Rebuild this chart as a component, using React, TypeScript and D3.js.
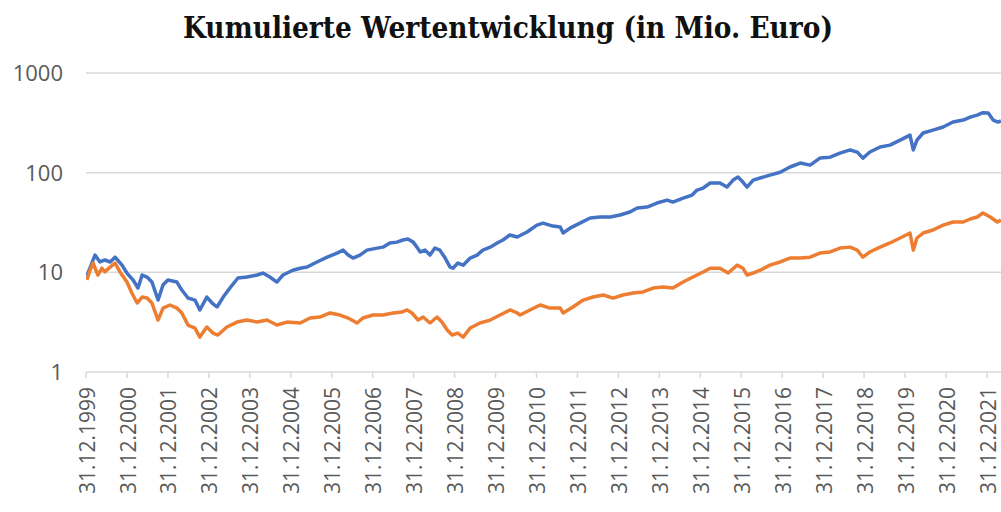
import { useEffect, useRef } from 'react';
import * as d3 from 'd3';

// Decimal year (2000.0 = 31.12.1999), value in Mio. Euro
const blueSeries: [number, number][] = [
    [2000.02, 9.2], [2000.22, 14.9], [2000.34, 12.7], [2000.46, 13.3], [2000.59, 12.7],
    [2000.71, 14.2], [2000.88, 11.8], [2001.00, 9.84], [2001.15, 8.37], [2001.27, 6.96],
    [2001.37, 9.4], [2001.49, 8.97], [2001.61, 7.99], [2001.76, 5.27], [2001.88, 7.46],
    [2002.00, 8.37], [2002.22, 7.99], [2002.34, 6.64], [2002.49, 5.52], [2002.66, 5.27],
    [2002.78, 4.19], [2002.95, 5.65], [2003.08, 4.92], [2003.20, 4.49], [2003.35, 5.65],
    [2003.57, 7.46], [2003.71, 8.77], [2003.93, 8.97], [2004.18, 9.4], [2004.32, 9.84],
    [2004.49, 8.97], [2004.66, 7.99], [2004.81, 9.4], [2005.05, 10.5], [2005.23, 11.0],
    [2005.40, 11.3], [2005.64, 12.7], [2005.89, 14.2], [2006.13, 15.6], [2006.28, 16.7],
    [2006.40, 14.9], [2006.52, 13.9], [2006.69, 14.9], [2006.86, 16.7], [2007.11, 17.5],
    [2007.25, 17.9], [2007.42, 19.7], [2007.59, 20.1], [2007.74, 21.1], [2007.86, 21.6],
    [2007.99, 20.1], [2008.08, 17.9], [2008.16, 16.0], [2008.28, 16.7], [2008.40, 14.9],
    [2008.52, 17.5], [2008.64, 16.7], [2008.77, 13.9], [2008.89, 11.3], [2008.96, 11.0],
    [2009.08, 12.4], [2009.21, 11.8], [2009.38, 13.9], [2009.55, 14.9], [2009.69, 16.7],
    [2009.87, 17.9], [2010.04, 19.7], [2010.18, 21.1], [2010.35, 23.7], [2010.53, 22.6],
    [2010.77, 25.4], [2011.01, 29.8], [2011.16, 31.2], [2011.40, 29.1], [2011.58, 28.5],
    [2011.65, 24.8], [2011.82, 27.8], [2012.06, 31.2], [2012.31, 35.1], [2012.55, 35.9],
    [2012.80, 35.9], [2013.04, 37.6], [2013.28, 40.3], [2013.46, 44.2], [2013.70, 45.2],
    [2013.94, 49.6], [2014.19, 53.1], [2014.33, 50.7], [2014.58, 55.6], [2014.80, 59.6],
    [2014.92, 66.9], [2015.07, 70.1], [2015.24, 78.7], [2015.48, 78.7], [2015.65, 71.7],
    [2015.80, 84.3], [2015.92, 90.3], [2016.04, 80.5], [2016.14, 71.7], [2016.29, 84.3],
    [2016.46, 88.3], [2016.70, 94.6], [2016.95, 101], [2017.19, 114], [2017.44, 125],
    [2017.68, 119], [2017.92, 140], [2018.17, 143], [2018.41, 157], [2018.66, 169],
    [2018.83, 161], [2018.97, 140], [2019.14, 161], [2019.39, 181], [2019.63, 189],
    [2019.88, 212], [2020.12, 238], [2020.20, 169], [2020.29, 212], [2020.44, 250],
    [2020.68, 267], [2020.93, 287], [2021.17, 322], [2021.42, 337], [2021.59, 361],
    [2021.76, 378], [2021.90, 400], [2022.03, 396], [2022.15, 337], [2022.27, 322],
    [2022.34, 330],
];

const orangeSeries: [number, number][] = [
    [2000.02, 8.4], [2000.10, 10.5], [2000.17, 12.4], [2000.29, 9.4], [2000.39, 11.0],
    [2000.46, 10.1], [2000.59, 11.3], [2000.71, 12.4], [2000.83, 10.1], [2001.00, 7.99],
    [2001.12, 6.2], [2001.25, 4.92], [2001.37, 5.65], [2001.49, 5.52], [2001.61, 4.92],
    [2001.76, 3.32], [2001.88, 4.38], [2002.05, 4.7], [2002.22, 4.38], [2002.34, 3.91],
    [2002.49, 2.96], [2002.66, 2.76], [2002.78, 2.24], [2002.95, 2.83], [2003.10, 2.46],
    [2003.22, 2.35], [2003.44, 2.83], [2003.69, 3.17], [2003.93, 3.32], [2004.18, 3.17],
    [2004.42, 3.32], [2004.66, 2.96], [2004.91, 3.17], [2005.23, 3.1], [2005.47, 3.48],
    [2005.71, 3.56], [2005.96, 3.91], [2006.20, 3.73], [2006.40, 3.48], [2006.62, 3.1],
    [2006.76, 3.48], [2007.01, 3.73], [2007.25, 3.73], [2007.50, 3.91], [2007.72, 4.0],
    [2007.84, 4.19], [2007.96, 3.91], [2008.11, 3.32], [2008.23, 3.56], [2008.40, 3.1],
    [2008.57, 3.56], [2008.69, 3.17], [2008.82, 2.64], [2008.94, 2.35], [2009.08, 2.46],
    [2009.21, 2.24], [2009.38, 2.76], [2009.62, 3.1], [2009.87, 3.32], [2010.11, 3.73],
    [2010.35, 4.19], [2010.53, 3.91], [2010.60, 3.73], [2010.84, 4.19], [2011.09, 4.7],
    [2011.33, 4.38], [2011.58, 4.38], [2011.65, 3.91], [2011.89, 4.49], [2012.14, 5.27],
    [2012.38, 5.65], [2012.63, 5.92], [2012.87, 5.52], [2013.11, 5.92], [2013.36, 6.2],
    [2013.60, 6.35], [2013.85, 6.96], [2014.09, 7.12], [2014.33, 6.96], [2014.58, 7.99],
    [2014.82, 8.97], [2015.07, 10.07], [2015.24, 11.0], [2015.48, 11.0], [2015.68, 9.84],
    [2015.90, 11.8], [2016.04, 11.0], [2016.14, 9.4], [2016.29, 9.84], [2016.46, 10.5],
    [2016.70, 11.8], [2016.95, 12.7], [2017.19, 13.9], [2017.44, 13.9], [2017.68, 14.2],
    [2017.92, 15.6], [2018.17, 16.0], [2018.41, 17.5], [2018.66, 17.9], [2018.83, 16.7],
    [2018.97, 14.2], [2019.14, 16.0], [2019.39, 17.9], [2019.63, 19.7], [2019.88, 22.1],
    [2020.12, 24.8], [2020.20, 16.7], [2020.29, 22.1], [2020.44, 24.8], [2020.68, 26.6],
    [2020.93, 29.8], [2021.17, 32.0], [2021.42, 32.0], [2021.59, 34.3], [2021.76, 35.9],
    [2021.90, 39.4], [2022.08, 35.9], [2022.25, 32.0], [2022.34, 33.5],
];

const yTicks = [1, 10, 100, 1000];
const xTickLabels = [
    '31.12.1999', '31.12.2000', '31.12.2001', '31.12.2002', '31.12.2003', '31.12.2004',
    '31.12.2005', '31.12.2006', '31.12.2007', '31.12.2008', '31.12.2009', '31.12.2010',
    '31.12.2011', '31.12.2012', '31.12.2013', '31.12.2014', '31.12.2015', '31.12.2016',
    '31.12.2017', '31.12.2018', '31.12.2019', '31.12.2020', '31.12.2021',
];
const title = 'Kumulierte Wertentwicklung (in Mio. Euro)';

const width = 1001;
const height = 512;

export default function App() {
    const ref = useRef<SVGSVGElement>(null);

    useEffect(() => {
        const svg = d3.select(ref.current);
        svg.selectAll('*').remove();

        const plotLeft = 86;
        const plotRight = width;

        // x: decimal years, tick i sits at year 2000 + i (= 31.12.1999 + i)
        const x = d3.scaleLinear()
            .domain([2000, 2000 + xTickLabels.length - 1])
            .range([86, 987]);

        const y = d3.scaleLog()
            .domain([1, 1000])
            .range([372, 73]);

        const gridColor = '#d9d9d9';
        const labelColor = '#595959';
        const font = '"Open Sans", "Liberation Sans", sans-serif';

        // Title
        svg.append('text')
            .attr('x', 508)
            .attr('y', 38)
            .attr('text-anchor', 'middle')
            .attr('font-family', '"DejaVu Serif Condensed", "DejaVu Serif", serif')
            .attr('font-weight', 'bold')
            .attr('font-size', 29)
            .attr('textLength', 650)
            .attr('lengthAdjust', 'spacingAndGlyphs')
            .attr('fill', '#111')
            .text(title);

        // Horizontal gridlines + y labels
        const yAxis = svg.append('g');
        yAxis.selectAll('line')
            .data(yTicks)
            .join('line')
            .attr('x1', plotLeft)
            .attr('x2', plotRight)
            .attr('y1', d => y(d))
            .attr('y2', d => y(d))
            .attr('stroke', gridColor)
            .attr('stroke-width', 1.5);
        yAxis.selectAll('text')
            .data(yTicks)
            .join('text')
            .attr('x', 63)
            .attr('y', d => y(d))
            .attr('dy', '0.36em')
            .attr('text-anchor', 'end')
            .attr('font-family', font)
            .attr('font-size', 22)
            .attr('fill', labelColor)
            .text(d => String(d));

        // x tick marks + rotated labels
        const xAxis = svg.append('g');
        xAxis.selectAll('line')
            .data(xTickLabels)
            .join('line')
            .attr('x1', (_, i) => x(2000 + i))
            .attr('x2', (_, i) => x(2000 + i))
            .attr('y1', y(1))
            .attr('y2', y(1) + 6)
            .attr('stroke', gridColor)
            .attr('stroke-width', 1.5);
        xAxis.selectAll('text')
            .data(xTickLabels)
            .join('text')
            .attr('transform', (_, i) => `translate(${x(2000 + i) + 1},${y(1) + 15}) rotate(-90)`)
            .attr('dy', '0.36em')
            .attr('text-anchor', 'end')
            .attr('font-family', font)
            .attr('font-size', 21)
            .attr('fill', labelColor)
            .text(d => d);

        // Lines, clipped to the plot area
        svg.append('clipPath')
            .attr('id', 'plot-clip')
            .append('rect')
            .attr('x', plotLeft)
            .attr('y', 50)
            .attr('width', plotRight - plotLeft)
            .attr('height', 330);

        const line = d3.line<[number, number]>()
            .x(d => x(d[0]))
            .y(d => y(d[1]));

        const lines = svg.append('g').attr('clip-path', 'url(#plot-clip)');
        lines.append('path')
            .attr('fill', 'none')
            .attr('stroke', '#4472C4')
            .attr('stroke-width', 3.5)
            .attr('stroke-linejoin', 'round')
            .attr('d', line(blueSeries));
        lines.append('path')
            .attr('fill', 'none')
            .attr('stroke', '#ED7D31')
            .attr('stroke-width', 3.5)
            .attr('stroke-linejoin', 'round')
            .attr('d', line(orangeSeries));
    }, []);

    return (
        <svg
            ref={ref}
            width={width}
            height={height}
            style={{ position: 'absolute', left: 0, top: 0, background: '#fff' }}
        />
    );
}
